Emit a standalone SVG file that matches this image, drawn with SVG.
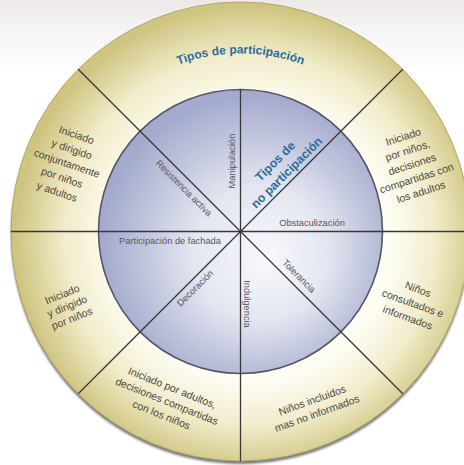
<svg xmlns="http://www.w3.org/2000/svg" width="464" height="465" viewBox="0 0 464 465">
<defs>
<linearGradient id="bg" x1="0" y1="0" x2="0" y2="1">
<stop offset="0" stop-color="#ece8e8"/>
<stop offset="0.06" stop-color="#f5f3f3"/>
<stop offset="0.16" stop-color="#ffffff"/>
</linearGradient>
<radialGradient id="ring" gradientUnits="userSpaceOnUse" cx="248" cy="238" r="232" fx="258" fy="248">
<stop offset="0.6" stop-color="#fefdf4"/>
<stop offset="0.8" stop-color="#f1ecca"/>
<stop offset="1" stop-color="#cfc581"/>
</radialGradient>
<radialGradient id="inner" gradientUnits="userSpaceOnUse" cx="252" cy="245" r="150" fx="268" fy="260">
<stop offset="0" stop-color="#f9f9fc"/>
<stop offset="0.45" stop-color="#e3e6f0"/>
<stop offset="1" stop-color="#a4aacd"/>
</radialGradient>
<filter id="blur" x="-10%" y="-10%" width="120%" height="120%">
<feGaussianBlur stdDeviation="1.3"/>
</filter>
<path id="titleArc" d="M 62.5,231.5 A 178 178 0 0 1 418.5,231.5"/>
</defs>
<style>
.ring{font-family:"Liberation Sans",Arial,sans-serif;font-size:10.5px;fill:#4a4739;text-anchor:middle}
.lab{font-family:"Liberation Sans",Arial,sans-serif;font-size:9.3px;fill:#55565e;text-anchor:middle}
.ttl{font-family:"Liberation Sans",Arial,sans-serif;font-weight:bold;fill:#2b6c9c;text-anchor:middle}
.div{stroke:#383838;stroke-width:1.3;fill:none}
</style>
<rect x="0" y="0" width="464" height="465" fill="url(#bg)"/>
<g id="wheel">
<circle cx="240.5" cy="234.5" r="229.5" fill="#7a7a7a" filter="url(#blur)"/>
<circle cx="240.5" cy="231.5" r="229.5" fill="url(#ring)" stroke="#b3a965" stroke-width="1"/>
<circle cx="240.5" cy="231.5" r="142" fill="url(#inner)" stroke="#545663" stroke-width="1.6"/>
</g>
<g id="connectors">
<line class="div" x1="11" y1="231.5" x2="470" y2="231.5"/>
<line class="div" x1="240.5" y1="231.5" x2="240.5" y2="89.5"/>
<line class="div" x1="240.5" y1="231.5" x2="240.5" y2="461"/>
<line class="div" x1="78.2" y1="69.2" x2="402.8" y2="393.8"/>
<line class="div" x1="402.8" y1="69.2" x2="78.2" y2="393.8"/>
</g>
<g id="title-participacion">
<text class="ttl" font-size="12"><textPath href="#titleArc" startOffset="50%">Tipos de participación</textPath></text>
</g>
<g id="seg-conjunto" transform="translate(67,163) rotate(19)">
<text class="ring" x="0" y="-26">Iniciado</text>
<text class="ring" x="0" y="-11">y dirigido</text>
<text class="ring" x="0" y="4">conjuntamente</text>
<text class="ring" x="0" y="19">por niños</text>
<text class="ring" x="0" y="34">y adultos</text>
</g>
<g id="seg-ninos" transform="translate(67,306) rotate(-22)">
<text class="ring" x="0" y="-9">Iniciado</text>
<text class="ring" x="0" y="4">y dirigido</text>
<text class="ring" x="0" y="17">por niños</text>
</g>
<g id="seg-ninos-compartidas" transform="translate(412,164) rotate(-18)">
<text class="ring" x="0" y="-25">Iniciado</text>
<text class="ring" x="0" y="-10.5">por niños,</text>
<text class="ring" x="0" y="4">decisiones</text>
<text class="ring" x="0" y="18.5">compartidas con</text>
<text class="ring" x="0" y="33">los adultos</text>
</g>
<g id="seg-consultados" transform="translate(413,303) rotate(20)">
<text class="ring" x="0" y="-11">Niños</text>
<text class="ring" x="0" y="4">consultados e</text>
<text class="ring" x="0" y="19">informados</text>
</g>
<g id="seg-adultos" transform="translate(167,401) rotate(22)">
<text class="ring" x="0" y="-10.5">Iniciado por adultos,</text>
<text class="ring" x="0" y="4">decisiones compartidas</text>
<text class="ring" x="0" y="18.5">con los niños</text>
</g>
<g id="seg-incluidos" transform="translate(314.5,406.5) rotate(-20)">
<text class="ring" x="0" y="-3">Niños incluidos</text>
<text class="ring" x="0" y="11">mas no informados</text>
</g>
<g id="title-no-participacion" transform="translate(281,167) rotate(-45)">
<text class="ttl" font-size="12.3" x="0" y="-4">Tipos de</text>
<text class="ttl" font-size="12.3" x="0" y="12">no participación</text>
</g>
<g id="lab-manipulacion" transform="translate(232,161) rotate(-90)">
<text class="lab" x="0" y="3.3">Manipulación</text>
</g>
<g id="lab-resistencia" transform="translate(184,188) rotate(45)">
<text class="lab" x="0" y="3.3">Resistencia activa</text>
</g>
<g id="lab-obstaculizacion">
<text class="lab" x="312" y="226">Obstaculización</text>
</g>
<g id="lab-fachada">
<text class="lab" x="170" y="243.5">Participación de fachada</text>
</g>
<g id="lab-decoracion" transform="translate(195,288) rotate(-45)">
<text class="lab" x="0" y="3.3">Decoración</text>
</g>
<g id="lab-indulgencia" transform="translate(247,304) rotate(90)">
<text class="lab" x="0" y="3.3">Indulgencia</text>
</g>
<g id="lab-tolerancia" transform="translate(299,276) rotate(45)">
<text class="lab" x="0" y="3.3">Tolerancia</text>
</g>
</svg>
